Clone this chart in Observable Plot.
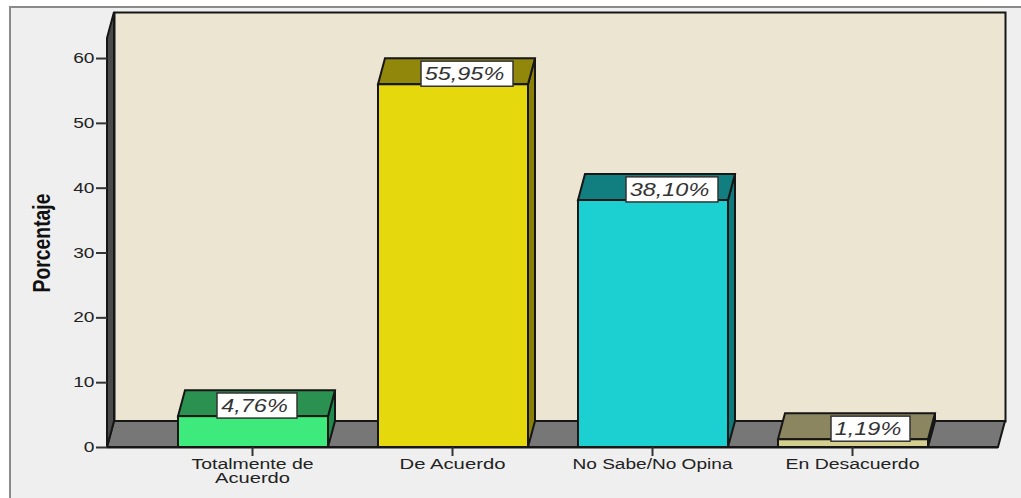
<!DOCTYPE html>
<html><head><meta charset="utf-8">
<script src="https://cdn.jsdelivr.net/npm/d3@7"></script>
<script src="https://cdn.jsdelivr.net/npm/@observablehq/plot@0.6"></script>
<style>
html,body{margin:0;padding:0;background:#fff;overflow:hidden;width:1021px;height:498px}
#panel{position:absolute;left:9px;top:6px;width:1100px;height:600px;border:2px solid #8a8a8a;background:#efefef}
#chart{position:absolute;left:0;top:0}
</style></head><body>
<div id="panel"></div><div id="chart"></div>
<script>
const categories = ["Totalmente de Acuerdo","De Acuerdo","No Sabe/No Opina","En Desacuerdo"];
const tickLabels = ["Totalmente de\nAcuerdo","De Acuerdo","No Sabe/No Opina","En Desacuerdo"];
const percentages = [4.76,55.95,38.10,1.19];
const valueLabels = ["4,76%","55,95%","38,10%","1,19%"];
const frontColors = ["#3eea7c","#e5d90e","#1ccfd0","#d4cf8e"];
const topColors = ["#2a9150","#91870a","#117f80","#8b8660"];
const sideColors = ["#1f8a4c","#8a8008","#0f7a7b","#7f7a55"];
const labelShift = [4,14,19,17.5];
const labelInset = [35,29,29,35.5];
const textWidths = {"Totalmente de":122,"Acuerdo":75,"De Acuerdo":106,"No Sabe/No Opina":160,"En Desacuerdo":134,"Porcentaje":99};
const depthX = 7, depthY = -26, ink = "#161616", edge = 2;
const rows = categories.map((cat,i)=>({cat,value:percentages[i],label:valueLabels[i],i}));
const bandSize = s => typeof s.bandwidth === "function" ? s.bandwidth() : s.bandwidth;

const faces = Plot.barY(rows,{x:"cat",y:"value",fill:"cat",stroke:ink,strokeWidth:edge,
  render(index,scales,values,dims,ctx,next){
    const g = next(index,scales,values,dims,ctx), s = d3.select(g), w = bandSize(scales.x);
    rows.forEach((r,i)=>{
      const l = scales.x(r.cat), t = scales.y(r.value), b = scales.y(0), rt = l+w;
      s.insert("polygon",":first-child").attr("points",[[l,t],[l+depthX,t+depthY],[rt+depthX,t+depthY],[rt,t]].join(" "))
        .attr("fill",topColors[i]).attr("stroke",ink).attr("stroke-width",edge);
      s.insert("polygon",":first-child").attr("points",[[rt,t],[rt+depthX,t+depthY],[rt+depthX,b+depthY],[rt,b]].join(" "))
        .attr("fill",sideColors[i]).attr("stroke",ink).attr("stroke-width",edge);
    });
    return g;
  }});

const shell = (index,scales,values,dims)=>{
  const g = d3.create("svg:g");
  const L = dims.marginLeft, R = dims.width-dims.marginRight, T = dims.marginTop, B = dims.height-dims.marginBottom;
  g.append("polygon").attr("points",[[L,B],[L+depthX,B+depthY],[R+depthX,B+depthY],[R,B]].join(" "))
    .attr("fill","#777").attr("stroke",ink).attr("stroke-width",edge);
  g.append("polygon").attr("points",[[L,T],[L+depthX,T+depthY],[L+depthX,B+depthY],[L,B]].join(" "))
    .attr("fill","#4a4a4a").attr("stroke",ink).attr("stroke-width",edge);
  return g.node();
};

const plot = Plot.plot({
  width:1021,height:498,marginLeft:107,marginRight:23,marginTop:38,marginBottom:51,
  style:{background:"transparent",fontFamily:"'Liberation Sans',Arial,sans-serif",overflow:"visible"},
  x:{domain:categories,range:[152,953],paddingInner:.25,paddingOuter:.125,align:.5,label:null},
  y:{domain:[0,63.09],label:null},
  color:{domain:categories,range:frontColors},
  marks:[
    Plot.frame({fill:"#ebe5d1",stroke:ink,strokeWidth:edge,dx:depthX,dy:depthY}),
    shell,
    faces,
    ...rows.map(r=>Plot.barY([r],{x:"cat",y1:r.value-.3,y2:r.value+3.57,fill:"#fff",stroke:"#333",strokeWidth:1.5,
      insetLeft:labelInset[r.i],insetRight:labelInset[r.i],dx:labelShift[r.i]})),
    ...rows.map(r=>Plot.text([r],{x:"cat",y:r.value+1.63,text:"label",dx:labelShift[r.i]-3,
      fontSize:18,fontStyle:"italic",fill:"#333"})),
    Plot.ruleY([0],{stroke:ink,strokeWidth:edge}),
    Plot.axisY({ticks:[0,10,20,30,40,50,60],tickSize:11,tickPadding:2,fontSize:14,stroke:"#333",strokeWidth:2,color:"#222",label:null}),
    Plot.axisX({tickSize:9,tickPadding:3,fontSize:14,lineHeight:1,stroke:"#333",strokeWidth:2,color:"#222",label:null,dx:-1,
      tickFormat:c=>tickLabels[categories.indexOf(c)]}),
    Plot.text(["Porcentaje"],{frameAnchor:"left",dx:-65,rotate:-90,textAnchor:"middle",fontSize:24,fontWeight:"bold",fill:"#111"})
  ]
});
document.getElementById("chart").append(plot);
d3.select(plot).selectAll("text").each(function(){
  const leaves = this.querySelectorAll("tspan").length ? [...this.querySelectorAll("tspan")] : [this];
  leaves.forEach(n=>{
    const t = n.textContent, len = n.getComputedTextLength();
    const target = textWidths[t] ?? len*(t.endsWith("%")?1.3:1.37);
    n.setAttribute("lengthAdjust","spacingAndGlyphs");
    n.setAttribute("textLength",target.toFixed(1));
  });
});
</script>
</body></html>
